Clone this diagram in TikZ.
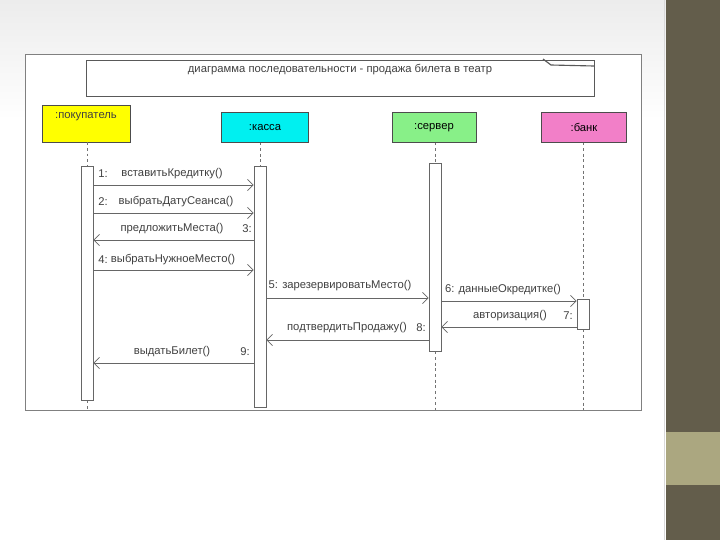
\documentclass[tikz,border=0pt]{standalone}
\usepackage{fontspec}
\setmainfont{Liberation Sans}
\usetikzlibrary{positioning, arrows.meta, calc}
\definecolor{strip}{HTML}{635D4B}
\definecolor{band}{HTML}{ABA780}
\definecolor{pkcol}{HTML}{FFFF00}
\definecolor{kscol}{HTML}{00F0F0}
\definecolor{svcol}{HTML}{88F088}
\definecolor{bkcol}{HTML}{F27FC8}
\tikzset{
    actor/.style={ % participant boxes
        draw=black!70,
        minimum height=0.75cm,
        inner sep=1pt,
        font=\fontsize{8}{9}\selectfont
    },
    lifeline/.style={
        draw=black!55,
        dash pattern=on 2pt off 2pt
    },
    actbar/.style={ % activation bars
        draw=black!60,
        fill=white,
        minimum width=0.3cm,
        inner sep=0pt
    },
    msg/.style={ % message arrows
        draw=black!60,
        semithick,
        -{Straight Barb[length=4pt,width=8pt]}
    },
    lbl/.style={
        font=\fontsize{8}{9}\selectfont,
        text=black!75,
        inner sep=1pt
    }
}

\begin{document}
\begin{tikzpicture}[x=0.025cm,y=-0.025cm]
    \useasboundingbox (0,0) rectangle (720,540);
    % slide background
    \fill[white] (0,0) rectangle (666,540);
    \shade[top color=gray!15, bottom color=white] (0,0) rectangle (666,120);
    \fill[strip] (666,0) rectangle (720,540);
    \fill[band] (666,432) rectangle (720,485);
    \draw[white!85!black] (664,0) -- (664,540);

    % frame and title
    \draw[black!50, fill=white] (25,54) rectangle (641,410);
    \draw[black!65] (86,60) rectangle (594,96);
    \draw[black!65, thick] (543,59) -- (551,65) -- (594,66);
    \node[lbl] (title) at (340,70) {диаграмма последовательности - продажа билета в театр};

    % participants
    \node[actor, fill=pkcol, minimum width=2.2cm, minimum height=0.92cm, anchor=north] (pk) at (86,105) {};
    \node[lbl] at (86,117) {:покупатель};
    \node[actor, fill=kscol, minimum width=2.17cm, anchor=north] (ks) at (265,112) {:касса};
    \node[actor, fill=svcol, minimum width=2.1cm, anchor=north] (sv) at (434,112) {:сервер};
    \node[actor, fill=bkcol, minimum width=2.12cm, anchor=north] (bk) at (584,112) {:банк};

    % activations
    \node[actbar, minimum height=5.85cm, anchor=north] (apk) at (87,166) {};
    \node[actbar, minimum height=6.02cm, anchor=north] (aks) at (260,166) {};
    \node[actbar, minimum height=4.7cm, anchor=north] (asv) at (435,163) {};
    \node[actbar, minimum height=0.75cm, anchor=north] (abk) at (583,299) {};

    % lifelines
    \coordinate (end) at (0,410);
    \draw[lifeline] (apk.north |- pk.south) -- (apk.north);
    \draw[lifeline] (apk.south) -- (apk.south |- end);
    \draw[lifeline] (aks.north |- ks.south) -- (aks.north);
    \draw[lifeline] (asv.north |- sv.south) -- (asv.north);
    \draw[lifeline] (asv.south) -- (asv.south |- end);
    \draw[lifeline] (abk.north |- bk.south) -- (abk.north);
    \draw[lifeline] (abk.south) -- (abk.south |- end);

    % messages
    \coordinate (m1) at (0,185);
    \coordinate (m2) at (0,213);
    \coordinate (m3) at (0,240);
    \coordinate (m4) at (0,270);
    \coordinate (m5) at (0,298);
    \coordinate (m6) at (0,301);
    \coordinate (m7) at (0,327);
    \coordinate (m8) at (0,340);
    \coordinate (m9) at (0,363);

    \draw[msg] (apk.east |- m1) -- (aks.west |- m1);
    \draw[msg] (apk.east |- m2) -- (aks.west |- m2);
    \draw[msg] (aks.west |- m3) -- (apk.east |- m3);
    \draw[msg] (apk.east |- m4) -- (aks.west |- m4);
    \draw[msg] (aks.east |- m5) -- (asv.west |- m5);
    \draw[msg] (asv.east |- m6) -- (abk.west |- m6);
    \draw[msg] (abk.west |- m7) -- (asv.east |- m7);
    \draw[msg] (asv.west |- m8) -- (aks.east |- m8);
    \draw[msg] (aks.west |- m9) -- (apk.east |- m9);

    % labels
    \node[lbl] at (103,174) {1:};
    \node[lbl] at (172,174) {вставитьКредитку()};
    \node[lbl] at (103,202) {2:};
    \node[lbl] at (176,202) {выбратьДатуСеанса()};
    \node[lbl] at (172,229) {предложитьМеста()};
    \node[lbl] at (247,229) {3:};
    \node[lbl] at (103,260) {4:};
    \node[lbl] at (173,260) {выбратьНужноеМесто()};
    \node[lbl] at (340,286) {5: зарезервироватьМесто()};
    \node[lbl] at (503,290) {6: данныеОкредитке()};
    \node[lbl] at (510,316) {авторизация()};
    \node[lbl] at (568,316) {7:};
    \node[lbl] at (347,328) {подтвердитьПродажу()};
    \node[lbl] at (421,328) {8:};
    \node[lbl] at (172,352) {выдатьБилет()};
    \node[lbl] at (245,352) {9:};
\end{tikzpicture}
\end{document}
